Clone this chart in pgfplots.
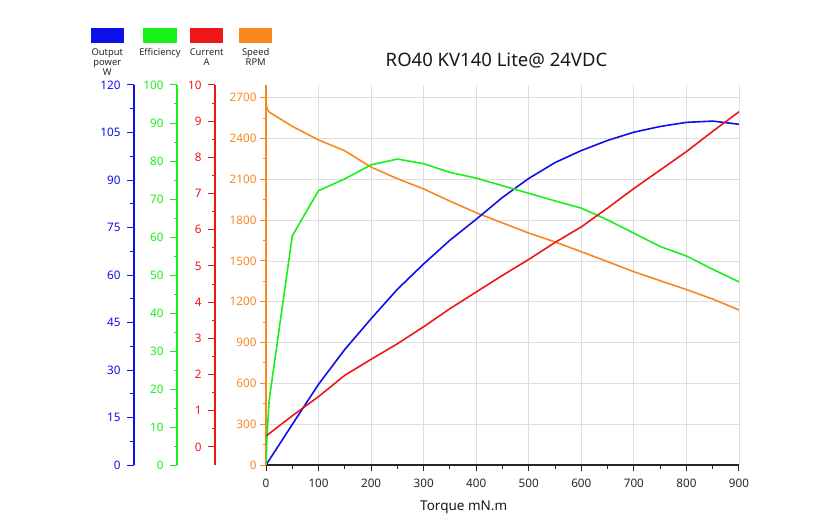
\documentclass[border=0pt]{standalone}
\usepackage{fontspec}
\setmainfont{Noto Sans}
\usepackage{pgfplots}
\pgfplotsset{compat=1.18}
\usepackage{pgfplotstable}
\definecolor{cblue}{RGB}{15,15,235}
\definecolor{cgreen}{RGB}{25,240,25}
\definecolor{cred}{RGB}{238,22,22}
\definecolor{corange}{RGB}{250,135,30}
\definecolor{cgrid}{RGB}{222,222,222}

\pgfplotstableread{
t s
0 2670
2 2620
6 2595
50 2490
100 2390
150 2310
200 2190
250 2105
300 2030
350 1940
400 1855
450 1780
500 1705
550 1640
600 1568
650 1495
700 1421
750 1355
800 1290
850 1220
900 1140
}\speed

\pgfplotstableread{
t e
0 0
2 8
6 17
50 60.3
100 72.2
150 75.3
200 79
250 80.5
300 79.3
350 77
400 75.5
450 73.5
500 71.5
550 69.5
600 67.6
650 64.5
700 61
750 57.5
800 55
850 51.5
900 48.2
}\eff

\pgfplotstableread{
t p
0 0
50 12.8
100 25.5
150 36.5
200 46.2
250 55.5
300 63.5
350 71
400 77.6
450 84.5
500 90.5
550 95.5
600 99.3
650 102.5
700 105.1
750 106.9
800 108.2
850 108.6
900 107.6
}\power

\pgfplotstableread{
t c
0 0.3
50 0.86
100 1.39
150 1.98
200 2.42
250 2.85
300 3.32
350 3.82
400 4.28
450 4.74
500 5.18
550 5.65
600 6.08
650 6.6
700 7.14
750 7.65
800 8.16
850 8.72
900 9.26
}\current

\pgfplotsset{
  base/.style={
    at={(266pt,66pt)}, anchor=south west, scale only axis,
    width=473pt, height=380pt,
    xmin=0, xmax=900,
    /pgf/number format/assume math mode=true,
    /pgf/number format/1000 sep={},
    scaled y ticks=false,
    tick label style={font=\fontsize{11.7}{14}\selectfont},
  },
  extra/.style 2 args={
    base, axis x line=none, xtick=\empty, axis y line*=left,
    tick align=outside, major tick length=7pt, minor tick length=3.5pt,
    every outer y axis line/.append style={xshift=#1, draw=#2, line width=1.2pt, -},
    y tick style={xshift=#1, draw=#2, line width=1pt},
    every y tick label/.append style={xshift=#1-3pt, text=#2},
  },
}

\begin{document}
\begin{tikzpicture}
\useasboundingbox (0,0) rectangle (840pt,531pt);

\begin{axis}[base, ymin=0, ymax=2794,
  axis x line*=bottom, axis y line*=left,
  xtick={0,100,...,900}, minor x tick num=1,
  ytick={0,300,...,2700}, minor y tick num=1,
  tick align=outside, major tick length=6pt, minor tick length=3.5pt,
  grid=major, major grid style={cgrid, line width=0.8pt},
  x axis line style={draw=black!85, line width=1.3pt, -},
  y axis line style={draw=corange, line width=1.3pt, -},
  x tick style={draw=black!85, line width=1pt},
  y tick style={draw=corange, line width=1pt},
  x tick label style={yshift=-4pt, text=black!85},
  y tick label style={text=corange},
]
\addplot[corange, line width=1.6pt, mark=none] table[x=t, y=s]{\speed};
\end{axis}

\begin{axis}[extra={-132pt}{cblue}, ymin=0, ymax=120,
  ytick={0,15,...,120}, minor y tick num=1]
\addplot[cblue, line width=1.6pt, mark=none] table[x=t, y=p]{\power};
\end{axis}

\begin{axis}[extra={-89pt}{cgreen}, ymin=0, ymax=100,
  ytick={0,10,...,100}, minor y tick num=1]
\addplot[cgreen, line width=1.6pt, mark=none] table[x=t, y=e]{\eff};
\end{axis}

\begin{axis}[extra={-51pt}{cred}, ymin=-0.5, ymax=10,
  ytick={0,1,...,10}, minor y tick num=1]
\addplot[cred, line width=1.6pt, mark=none] table[x=t, y=c]{\current};
\end{axis}

% title and axis label
\node[anchor=base, text=black!90, font=\fontsize{18.5}{22}\selectfont] at (496.5pt,464.8pt) {RO40 KV140 Lite@ 24VDC};
\node[anchor=base, text=black!90, font=\fontsize{13.5}{16}\selectfont] at (463.7pt,21pt) {Torque mN.m};

% legend
\fill[cblue] (90.7pt,488.3pt) rectangle (124pt,502.7pt);
\fill[cgreen] (143.3pt,488.3pt) rectangle (176.7pt,502.7pt);
\fill[cred] (190pt,488.3pt) rectangle (223.3pt,502.7pt);
\fill[corange] (239.3pt,488.3pt) rectangle (272pt,502.7pt);
\begin{scope}[every node/.style={anchor=north, align=center, inner sep=0pt, text=black!85, font=\fontsize{9.4}{9.8}\selectfont}]
\node at (107.3pt,482.5pt) {Output\\power\\W};
\node at (160pt,482.5pt) {Efficiency};
\node at (206.7pt,482.5pt) {Current\\A};
\node at (255.7pt,482.5pt) {Speed\\RPM};
\end{scope}
\end{tikzpicture}
\end{document}
